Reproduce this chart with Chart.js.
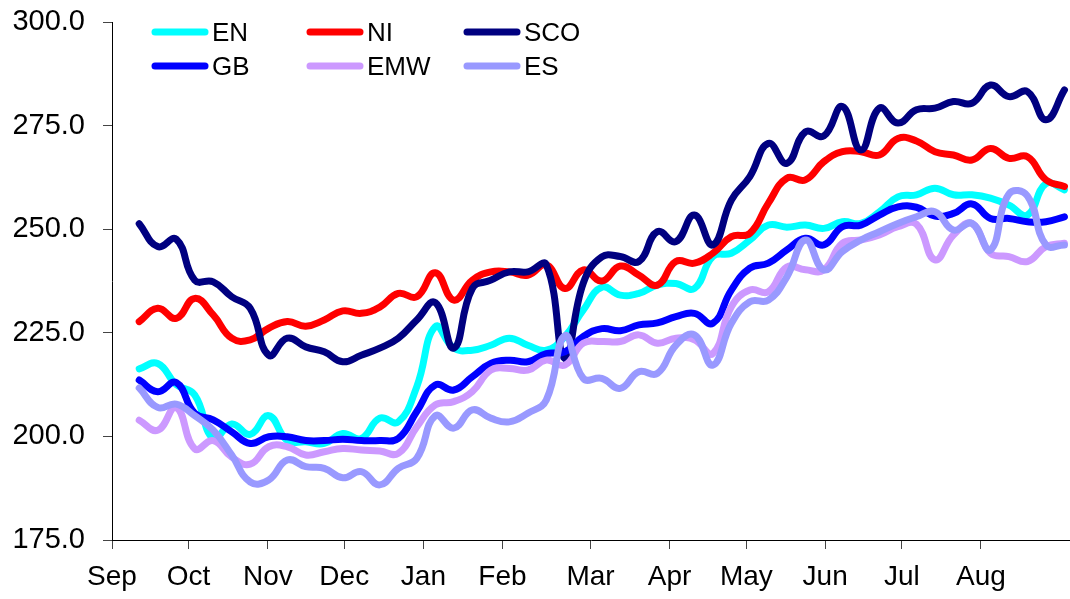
<!DOCTYPE html>
<html>
<head>
<meta charset="utf-8">
<script src="https://cdn.jsdelivr.net/npm/chart.js@4.4.1/dist/chart.umd.min.js"></script>
<style>
  html, body { margin: 0; padding: 0; background: #fff; }
  #wrap { width: 1070px; height: 599px; }
</style>
</head>
<body>
<div id="wrap"><canvas id="chart" width="1070" height="599"></canvas></div>
<script>
// weekly values, Sep .. Aug
const EN = [216.3, 217.6, 212.5, 210.0, 199.5, 203.0, 200.5, 205.0, 199.0, 198.7,
            198.3, 200.7, 199.5, 204.4, 203.5, 212.0, 226.5, 221.3, 220.8, 222.0,
            223.7, 222.0, 220.8, 224.1, 230.5, 236.0, 234.1, 234.5, 236.5, 236.9,
            235.7, 243.4, 244.2, 247.4, 251.0, 250.5, 251.0, 250.2, 251.8, 251.4,
            254.2, 257.8, 258.3, 259.9, 258.3, 258.3, 257.5, 255.8, 253.4, 261.0, 259.5];
const NI = [227.7, 230.9, 228.5, 233.3, 229.3, 223.7, 223.3, 226.1, 227.7, 226.6,
            228.1, 230.3, 229.7, 231.2, 234.5, 233.7, 239.5, 232.9, 237.7, 239.7,
            239.7, 238.9, 241.4, 235.7, 240.2, 237.5, 241.1, 238.9, 236.5, 242.2,
            241.8, 244.2, 248.2, 249.0, 256.3, 262.3, 261.9, 266.3, 268.7, 268.7,
            267.9, 271.9, 271.3, 268.7, 267.9, 266.7, 269.5, 267.1, 267.5, 261.9, 260.3];
const SCO = [251.3, 245.8, 247.6, 237.7, 237.3, 233.7, 230.9, 219.6, 223.7, 221.6,
             220.4, 218.0, 219.6, 221.3, 223.7, 228.1, 232.3, 221.3, 235.7, 237.7,
             239.7, 239.7, 241.4, 218.8, 237.0, 243.3, 243.4, 242.2, 249.4, 247.0,
             253.4, 246.2, 257.0, 262.7, 270.7, 265.9, 273.5, 272.5, 279.6, 269.1,
             279.2, 275.6, 278.8, 279.2, 280.8, 280.4, 284.8, 282.0, 283.2, 276.4, 283.6];
const GB = [213.6, 210.8, 213.0, 205.6, 204.0, 201.1, 198.3, 199.9, 199.9, 199.0,
            199.0, 199.3, 199.0, 199.0, 199.5, 206.0, 212.4, 211.2, 214.4, 217.6,
            218.4, 218.0, 220.0, 220.4, 224.1, 226.0, 225.5, 226.9, 227.4, 228.9,
            229.7, 227.3, 235.3, 240.6, 241.8, 245.0, 247.8, 246.2, 250.6, 251.0,
            253.4, 255.4, 255.3, 253.2, 253.8, 256.1, 252.6, 252.6, 251.8, 251.8, 253.0];
const EMW = [203.9, 201.5, 207.0, 197.0, 199.0, 195.0, 193.3, 197.5, 197.5, 195.5,
             196.3, 197.1, 196.7, 196.5, 195.9, 202.3, 207.6, 208.4, 210.8, 216.0,
             216.4, 216.0, 218.4, 217.2, 222.5, 222.9, 222.9, 224.5, 222.5, 223.7,
             223.3, 220.0, 231.3, 235.3, 234.9, 240.9, 240.2, 240.2, 246.6, 247.4,
             248.6, 250.6, 251.2, 242.6, 248.6, 251.4, 244.2, 243.4, 242.2, 245.8, 246.6];
const ES = [211.7, 207.0, 207.8, 205.0, 201.5, 195.5, 189.0, 189.5, 194.3, 192.7,
            192.3, 190.0, 191.5, 188.3, 192.3, 194.7, 205.0, 202.0, 206.4, 204.4,
            203.5, 205.6, 208.8, 224.3, 214.0, 214.0, 211.6, 215.6, 215.2, 222.0,
            224.5, 217.2, 227.3, 232.5, 232.9, 238.5, 247.4, 240.2, 244.6, 247.4,
            249.4, 251.4, 253.0, 254.2, 249.8, 251.4, 245.0, 258.5, 258.0, 246.2, 246.2];

// month ticks, in week units
const monthLabels = ['Sep', 'Oct', 'Nov', 'Dec', 'Jan', 'Feb', 'Mar', 'Apr', 'May', 'Jun', 'Jul', 'Aug'];
const monthTicks = [-1.47, 2.66, 6.95, 11.08, 15.36, 19.63, 24.39, 28.66, 32.81, 37.07, 41.21, 45.49];
const yTicks = [175, 200, 225, 250, 275, 300];

const FONT = '"Liberation Sans", Arial, sans-serif';
const legendCols = [155, 310, 467];
const legendRows = [32, 66];

const series = [
    { label: 'EN', data: EN, color: '#00FFFF' },
    { label: 'NI', data: NI, color: '#FF0000' },
    { label: 'SCO', data: SCO, color: '#000080' },
    { label: 'GB', data: GB, color: '#0000FF' },
    { label: 'EMW', data: EMW, color: '#CC99FF' },
    { label: 'ES', data: ES, color: '#9999FF' }
];

// legend drawn as a 3 x 2 grid inside the plot
const gridLegend = {
    id: 'gridLegend',
    afterDraw(chart) {
        const ctx = chart.ctx;
        ctx.save();
        ctx.font = '26px ' + FONT;
        ctx.textBaseline = 'alphabetic';
        ctx.fillStyle = '#000';
        chart.data.datasets.forEach((ds, i) => {
            const x = legendCols[i % 3];
            const y = legendRows[Math.floor(i / 3)];
            ctx.strokeStyle = ds.borderColor;
            ctx.lineWidth = 7;
            ctx.lineCap = 'round';
            ctx.beginPath();
            ctx.moveTo(x, y);
            ctx.lineTo(x + 50, y);
            ctx.stroke();
            ctx.fillText(ds.label, x + 57, y + 9);
        });
        ctx.restore();
    }
};

new Chart(document.getElementById('chart'), {
    type: 'line',
    data: {
        datasets: series.map((s, i) => ({
            label: s.label,
            data: s.data.map((v, k) => ({ x: k, y: v })),
            borderColor: s.color,
            backgroundColor: s.color,
            borderWidth: 7,
            borderCapStyle: 'round',
            borderJoinStyle: 'round',
            pointRadius: 0,
            tension: 0.45,
            fill: false,
            order: series.length - i
        }))
    },
    options: {
        responsive: false,
        animation: false,
        layout: { padding: { top: 22, right: 0, left: 0, bottom: 0 } },
        plugins: {
            legend: { display: false },
            tooltip: { enabled: false }
        },
        scales: {
            x: {
                type: 'linear',
                min: -1.47,
                max: 50.3,
                afterBuildTicks: scale => {
                    scale.ticks = monthTicks.map(v => ({ value: v }));
                },
                afterFit: scale => {
                    scale.height = 59;
                    scale.paddingLeft = 0;
                    scale.paddingRight = 0;
                },
                ticks: {
                    autoSkip: false,
                    maxRotation: 0,
                    padding: 11,
                    color: '#000',
                    font: { family: FONT, size: 28 },
                    callback: (v, i) => monthLabels[i]
                },
                grid: { drawOnChartArea: false, tickLength: 9, color: '#444' },
                border: { color: '#000', width: 1 }
            },
            y: {
                min: 175,
                max: 300,
                afterBuildTicks: scale => {
                    scale.ticks = yTicks.map(v => ({ value: v }));
                },
                afterFit: scale => {
                    scale.width = 112;
                    scale.paddingTop = 0;
                    scale.paddingBottom = 0;
                },
                ticks: {
                    padding: 18,
                    color: '#000',
                    font: { family: FONT, size: 29 },
                    callback: v => v.toFixed(1)
                },
                grid: { drawOnChartArea: false, tickLength: 9, color: '#444' },
                border: { color: '#000', width: 1 }
            }
        }
    },
    plugins: [gridLegend]
});
</script>
</body>
</html>
